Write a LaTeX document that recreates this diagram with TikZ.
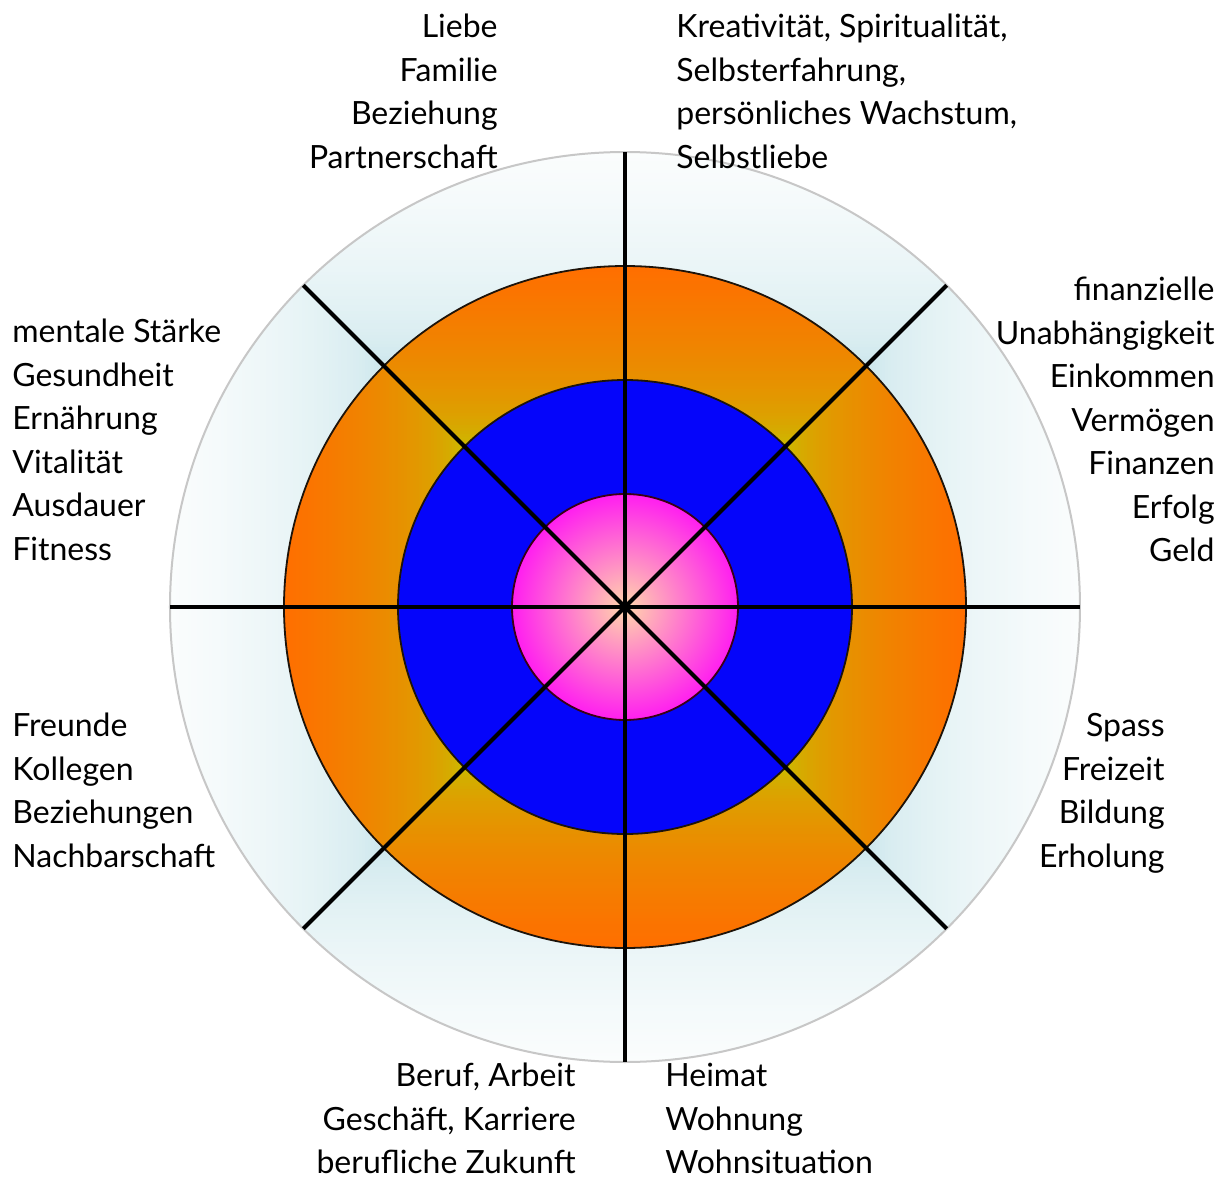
\documentclass[tikz,border=0pt]{standalone}
\usepackage{fontspec}
\setmainfont{Lato}
\definecolor{ringorange}{RGB}{255,110,0}
\definecolor{ringyellow}{RGB}{195,198,0}
\definecolor{ringcyan}{RGB}{198,228,234}
\definecolor{ringwhite}{RGB}{251,253,253}
\definecolor{coreblue}{RGB}{5,5,250}
\definecolor{corepink}{RGB}{255,30,240}
\definecolor{corepeach}{RGB}{255,215,170}
\begin{document}
\begin{tikzpicture}[x=0.5pt,y=0.5pt,
  spoke/.style={line width=2pt,black},
  rim/.style={line width=0.9pt,draw=black!85!brown},
  lbl/.style={inner sep=0pt,font=\fontsize{16}{21.75}\selectfont}]
\fill[white] (-625,-573) rectangle (603,607);
\begin{scope}
\clip (0,0) circle (455);
\foreach \s in {455,452,...,241}{
  \pgfmathtruncatemacro\p{100*sqrt((\s-241)/214)}
  \fill[fill={ringwhite!\p!ringcyan}] (-\s,-\s) rectangle (\s,\s);}
\end{scope}
\draw[line width=1pt,black!22] (0,0) circle (455);
\begin{scope}
\clip (0,0) circle (341);
\foreach \s in {341,338,...,160}{
  \pgfmathtruncatemacro\p{100*sqrt((\s-160)/181)}
  \fill[fill={ringorange!\p!ringyellow}] (-\s,-\s) rectangle (\s,\s);}
\end{scope}
\draw[rim] (0,0) circle (341);
\path[fill=coreblue,rim] (0,0) circle (227);
\shade[inner color=corepeach,outer color=corepink] (0,0) circle (113);
\draw[rim,draw=black!70!purple] (0,0) circle (113);
\coordinate (c) at (0,0);
\foreach \a in {0,45,...,315}{
  \coordinate (e\a) at (\a:455);
  \draw[spoke] (c) -- (e\a);}
\node[lbl,align=right,anchor=north east] (love) at (-127,593) {Liebe\\Familie\\Beziehung\\Partnerschaft};
\node[lbl,align=left,anchor=north west] (growth) at (51,593) {Kreativität, Spiritualität,\\Selbsterfahrung,\\persönliches Wachstum,\\Selbstliebe};
\node[lbl,align=left,anchor=north west] (health) at (-613,288) {mentale Stärke\\Gesundheit\\Ernährung\\Vitalität\\Ausdauer\\Fitness};
\node[lbl,align=right,anchor=north east] (money) at (590,330) {finanzielle\\Unabhängigkeit\\Einkommen\\Vermögen\\Finanzen\\Erfolg\\Geld};
\node[lbl,align=left,anchor=north west] (friends) at (-613,-106) {Freunde\\Kollegen\\Beziehungen\\Nachbarschaft};
\node[lbl,align=right,anchor=north east] (fun) at (540,-106) {Spass\\Freizeit\\Bildung\\Erholung};
\node[lbl,align=right,anchor=north east] (career) at (-49,-456) {Beruf, Arbeit\\Geschäft, Karriere\\berufliche Zukunft};
\node[lbl,align=left,anchor=north west] (home) at (40,-456) {Heimat\\Wohnung\\Wohnsituation};
\end{tikzpicture}
\end{document}
